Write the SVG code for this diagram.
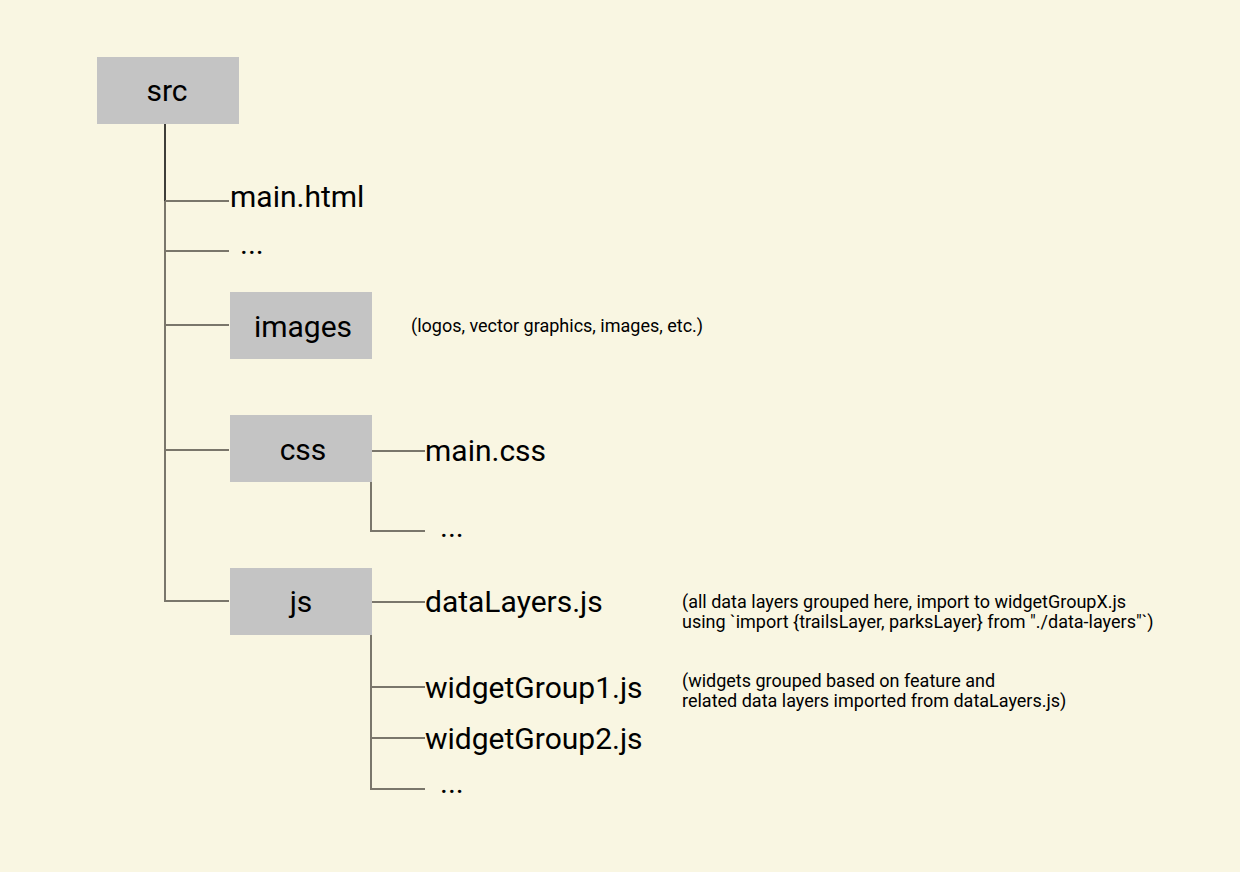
<svg xmlns="http://www.w3.org/2000/svg" width="1240" height="872" viewBox="0 0 1240 872">
<style>
.box{fill:#c4c4c4}
.lbl{font-family:Roboto,"Liberation Sans",sans-serif;font-size:30px;fill:#000}
.box-lbl{font-family:Roboto,"Liberation Sans",sans-serif;font-size:30px;fill:#000;text-anchor:middle}
.note{font-family:Roboto,"Liberation Sans",sans-serif;font-size:18px;fill:#000}
.ln{stroke:#7a766b;stroke-width:2;fill:none}
.ln-dark{stroke:#000;stroke-width:1.5;fill:none}
</style>
<rect width="1240" height="872" fill="#f9f6e2"/>
<g id="connectors">
<path class="ln-dark" d="M165 123 V201"/>
<path class="ln" d="M165 201 V601 H229"/>
<path class="ln" d="M165 201 H229"/>
<path class="ln" d="M165 251 H229"/>
<path class="ln" d="M165 325 H229"/>
<path class="ln" d="M165 450 H229"/>
<path class="ln" d="M372 451 H425"/>
<path class="ln" d="M371 482 V531 H425"/>
<path class="ln" d="M372 602 H425"/>
<path class="ln" d="M371 635 V789 H425"/>
<path class="ln" d="M371 687 H425"/>
<path class="ln" d="M371 738 H425"/>
</g>
<g id="node-src"><rect class="box" x="97" y="57" width="142" height="67"/><text class="box-lbl" x="167" y="101">src</text></g>
<g id="node-main-html"><text class="lbl" x="230" y="207">main.html</text></g>
<g id="node-dots1"><text class="lbl" x="240" y="254">...</text></g>
<g id="node-images"><rect class="box" x="230" y="292" width="142" height="67"/><text class="box-lbl" x="303" y="337">images</text></g>
<g id="note-images"><text class="note" x="411" y="332">(logos, vector graphics, images, etc.)</text></g>
<g id="node-css"><rect class="box" x="230" y="415" width="142" height="67"/><text class="box-lbl" x="303" y="460">css</text></g>
<g id="node-main-css"><text class="lbl" x="425" y="461">main.css</text></g>
<g id="node-dots2"><text class="lbl" x="440" y="537">...</text></g>
<g id="node-js"><rect class="box" x="230" y="568" width="142" height="67"/><text class="box-lbl" x="301" y="612">js</text></g>
<g id="node-datalayers"><text class="lbl" x="425" y="612">dataLayers.js</text></g>
<g id="note-datalayers"><text class="note" x="682" y="608">(all data layers grouped here, import to widgetGroupX.js</text><text class="note" x="682" y="628">using `import {trailsLayer, parksLayer} from "./data-layers"`)</text></g>
<g id="node-widget1"><text class="lbl" x="425" y="698">widgetGroup1.js</text></g>
<g id="note-widgets"><text class="note" x="682" y="687">(widgets grouped based on feature and</text><text class="note" x="682" y="707">related data layers imported from dataLayers.js)</text></g>
<g id="node-widget2"><text class="lbl" x="425" y="749">widgetGroup2.js</text></g>
<g id="node-dots3"><text class="lbl" x="440" y="793">...</text></g>
</svg>
